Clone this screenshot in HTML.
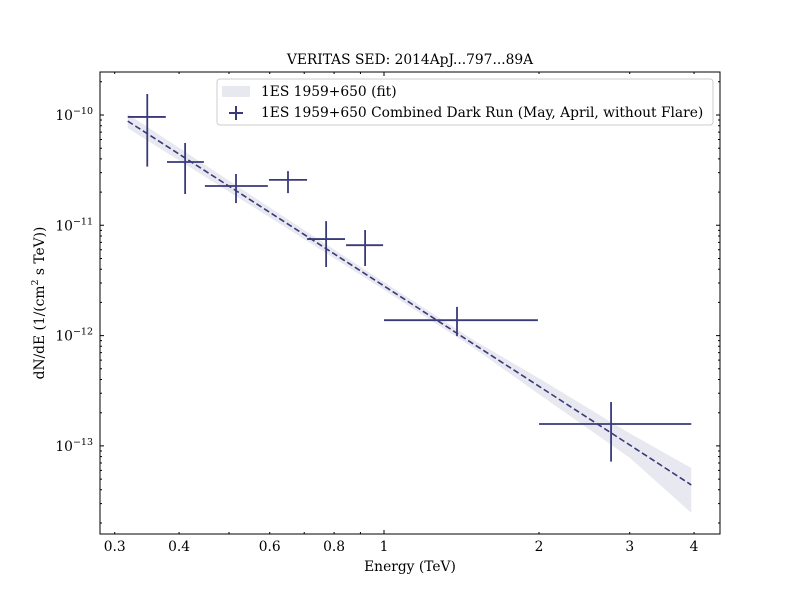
<!DOCTYPE html>
<html><head><meta charset="utf-8"><style>
body{margin:0;background:#fff}
svg{font-family:"DejaVu Serif","Liberation Serif",serif}
</style></head><body>
<svg id="chart" width="800" height="600" viewBox="0 0 800 600" xmlns="http://www.w3.org/2000/svg">
<rect width="800" height="600" fill="#fff"/>
<text x="410" y="64" text-anchor="middle" font-size="13.8">VERITAS SED: 2014ApJ...797...89A</text>
<g id="band"></g>
<g id="marks"></g>
<g id="axes"></g>
<rect x="100" y="72" width="620" height="462" fill="none" stroke="#000" stroke-width="1"/>
<text x="410" y="571" text-anchor="middle" font-size="13.8">Energy (TeV)</text>
<text transform="translate(44,303) rotate(-90)" text-anchor="middle" font-size="13.8">dN/dE (1/(cm<tspan font-size="9.5" dy="-6">2</tspan><tspan dy="6"> s TeV))</tspan></text>
<g>
<rect x="217" y="79" width="496" height="46" rx="3" fill="#fff" fill-opacity="0.8" stroke="#ccc"/>
<rect x="222" y="86" width="28" height="11" fill="#e8e8f0"/>
<text x="261" y="96" font-size="13.8">1ES 1959+650 (fit)</text>
<path d="M229 113H243M236 106V120" stroke="#3a3a7a" stroke-width="2"/>
<text x="261" y="117" font-size="13.8">1ES 1959+650 Combined Dark Run (May, April, without Flare)</text>
</g>
</svg>
<script>
const energy=[0.347,0.411,0.516,0.651,0.772,0.919,1.386,2.76];
const eLow=[0.318,0.379,0.449,0.598,0.709,0.844,1.0,2.0];
const eHigh=[0.377,0.447,0.595,0.709,0.840,0.996,1.99,3.95];
const flux=[9.6e-11,3.75e-11,2.27e-11,2.58e-11,7.5e-12,6.6e-12,1.38e-12,1.58e-13];
const fluxHigh=[1.55e-10,5.57e-11,2.92e-11,3.1e-11,1.09e-11,9.06e-12,1.82e-12,2.5e-13];
const fluxLow=[3.4e-11,1.92e-11,1.59e-11,1.96e-11,4.19e-12,4.28e-12,9.9e-13,7.2e-14];
const fitE=[0.318,0.6,1,1.5,2,3,3.95];
const fitFlux=[8.8e-11,1.31e-11,2.82e-12,8.26e-13,3.47e-13,1.02e-13,4.43e-14];
const fitHigh=[1.02e-10,1.45e-11,3.05e-12,8.98e-13,4.1e-13,1.3e-13,6.3e-14];
const fitLow=[7.6e-11,1.18e-11,2.6e-12,7.6e-13,2.94e-13,7.8e-14,2.47e-14];
const xTickVals=[0.3,0.4,0.6,0.8,1,2,3,4];
const xTickLabels=["0.3","0.4","0.6","0.8","1","2","3","4"];
const yExps=[-10,-11,-12,-13];

const NS="http://www.w3.org/2000/svg";
const X=e=>384+515*Math.log10(e);
const Y=f=>115-110.3*(Math.log10(f)+10);
const C="#3a3a7a";
function mk(tag,attrs,parent){const el=document.createElementNS(NS,tag);for(const k in attrs)el.setAttribute(k,attrs[k]);parent.appendChild(el);return el;}
const band=document.getElementById('band'),marks=document.getElementById('marks'),axes=document.getElementById('axes');

let d="M"+fitE.map((e,i)=>X(e)+","+Y(fitHigh[i])).join("L");
for(let i=fitE.length-1;i>=0;i--)d+="L"+X(fitE[i])+","+Y(fitLow[i]);
const bp=mk('path',{d:d+"Z",fill:"#e8e8f0"},band);


const fl=mk('path',{d:"M"+fitE.map((e,i)=>X(e)+","+Y(fitFlux[i])).join("L"),fill:"none",stroke:C,"stroke-width":1.6,"stroke-dasharray":"6,3"},marks);



energy.forEach((e,i)=>{
  const p=mk('path',{d:`M${X(eLow[i])} ${Y(flux[i])}H${X(eHigh[i])}M${X(e)} ${Y(fluxHigh[i])}V${Y(fluxLow[i])}`,stroke:C,"stroke-width":1.8,fill:"none"},marks);
  
  
});

const xMinor=[0.3,0.4,0.5,0.6,0.7,0.8,0.9,1,2,3,4];
xMinor.forEach(v=>{const x=X(v);const L=v===1?4:2;
  mk('path',{d:`M${x} 534v-${L}M${x} 72v${L}`,stroke:"#000"},axes);});
xTickVals.forEach((v,i)=>{
  const t=mk('text',{x:X(v),y:551,"text-anchor":"middle","font-size":13.8},axes);
  t.textContent=xTickLabels[i];
  
  
});
for(let ex=-14;ex<=-10;ex++){for(let m=1;m<10;m++){const y=Y(m*Math.pow(10,ex));if(y<72||y>534)continue;
  const L=m===1?4:2;mk('path',{d:`M100 ${y}h${L}M720 ${y}h-${L}`,stroke:"#000"},axes);}}
yExps.forEach(ex=>{
  const y=Y(Math.pow(10,ex));
  const t=mk('text',{x:93,y:y+5,"text-anchor":"end","font-size":13.8},axes);
  
  
  t.appendChild(document.createTextNode("10"));
  const s=mk('tspan',{"font-size":9.5,dy:-6},t);s.textContent="\u2212"+(-ex);
});
</script>
</body></html>
